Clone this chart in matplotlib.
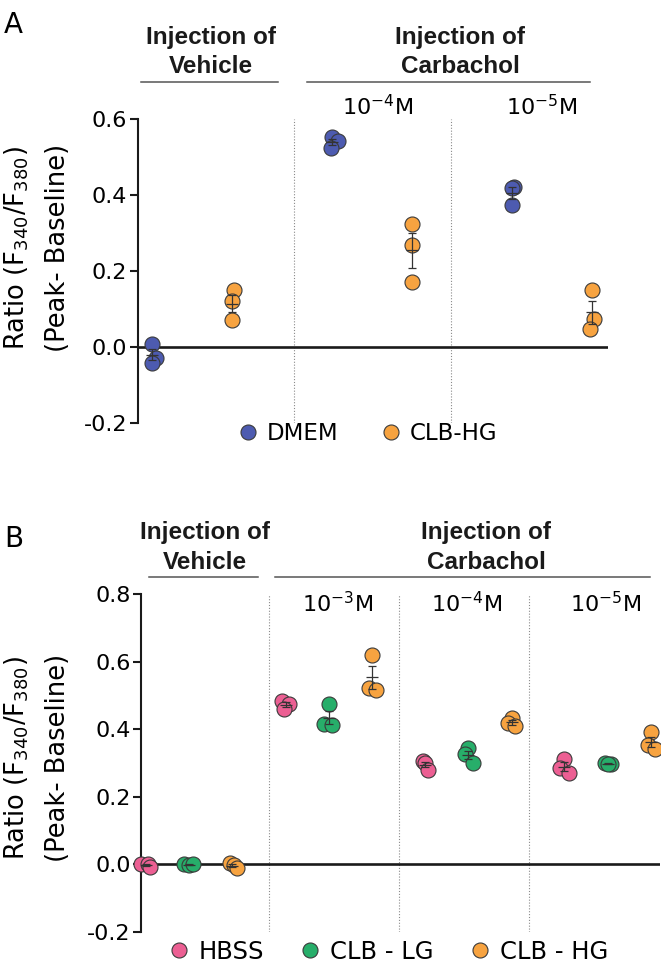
import numpy as np
import matplotlib
matplotlib.use('Agg')
import matplotlib.pyplot as plt
from matplotlib.lines import Line2D

plt.rcParams['font.family'] = ['DejaVu Sans']
plt.rcParams['axes.unicode_minus'] = False

W, H = 661, 964

# ---- panel A data ----
a_groups = ['Vehicle', '1e-4', '1e-5']
a_series = ['DMEM', 'CLB-HG']
a_colors = ['#4d5bb0', '#f7a340']
a_group_pos = [0.0, 2.256, 4.52]
a_values = {
    'DMEM': [[0.009, -0.028, -0.041], [0.552, 0.543, 0.523], [0.421, 0.419, 0.375]],
    'CLB-HG': [[0.150, 0.121, 0.071], [0.323, 0.269, 0.170], [0.150, 0.075, 0.048]],
}
a_jitter = {
    'DMEM': [[0.0, 0.05, 0.0], [0.0, 0.07, -0.01], [0.02, 0.0, 0.0]],
    'CLB-HG': [[0.02, 0.0, 0.0], [0.0, 0.0, 0.0], [0.0, 0.02, -0.02]],
}
a_dividers = [1.771, 3.753]

# ---- panel B data ----
b_groups = ['Vehicle', '1e-3', '1e-4', '1e-5']
b_series = ['HBSS', 'CLB - LG', 'CLB - HG']
b_colors = ['#ec5f93', '#27ae6a', '#f7a340']
b_group_pos = [0.0, 3.23, 6.45, 9.67]
b_values = {
    'HBSS': [[0.002, 0.0, -0.008], [0.482, 0.476, 0.460],
             [0.305, 0.299, 0.280], [0.313, 0.284, 0.270]],
    'CLB - LG': [[0.0, -0.002, 0.0], [0.475, 0.415, 0.413],
                 [0.344, 0.327, 0.300], [0.300, 0.298, 0.297]],
    'CLB - HG': [[0.003, -0.002, -0.011], [0.620, 0.522, 0.517],
                 [0.432, 0.418, 0.410], [0.393, 0.354, 0.342]],
}
b_jitter = {
    'HBSS': [[-0.1, 0.05, 0.1], [-0.07, 0.08, -0.04],
             [-0.04, 0.0, 0.08], [0.0, -0.1, 0.1]],
    'CLB - LG': [[-0.12, 0.0, 0.1], [0.0, -0.1, 0.08],
                 [0.0, -0.08, 0.1], [-0.05, 0.08, 0.0]],
    'CLB - HG': [[-0.05, 0.05, 0.1], [0.0, -0.08, 0.08],
                 [0.0, -0.07, 0.07], [0.0, -0.07, 0.1]],
}
b_dividers = [2.85, 5.85, 8.85]

MS = 10.8
EDGE = '#3a3a3a'
HEAD_FONT = ['Liberation Sans', 'DejaVu Sans']


def px(x, y):
    return x / W, 1 - y / H


def draw_panel(ax, series, colors, group_pos, values, jitter, dividers, ylim, yticks):
    for d in dividers:
        ax.axvline(d, color='#8a8a8a', lw=0.8, ls=(0, (1, 1.6)), zorder=0)
    ax.axhline(0, color='#1a1a1a', lw=1.9, zorder=1)
    for si, (name, col) in enumerate(zip(series, colors)):
        for gi, g0 in enumerate(group_pos):
            x0 = g0 + si
            ys = np.array(values[name][gi])
            xs = x0 + np.array(jitter[name][gi])
            ax.plot(xs, ys, 'o', ms=MS, mfc=col, mec=EDGE, mew=0.8,
                    ls='none', zorder=3, clip_on=False)
            m = ys.mean()
            sem = ys.std(ddof=1) / np.sqrt(len(ys))
            ax.errorbar([x0], [m], yerr=[sem], fmt='none', ecolor='#333333',
                        elinewidth=0.9, capsize=3, capthick=0.9, zorder=4)
            ax.plot([x0], [m], marker='_', ms=9, mew=0.9, color='#333333',
                    zorder=4)
    ax.set_ylim(*ylim)
    ax.set_yticks(yticks)
    ax.set_yticklabels(['%.1f' % t for t in yticks])
    ax.set_xticks([])
    for s in ['top', 'right', 'bottom']:
        ax.spines[s].set_visible(False)
    ax.spines['left'].set_linewidth(1.5)
    ax.spines['left'].set_color('#1a1a1a')
    ax.tick_params(axis='y', length=6, width=1.5, pad=1.5, labelsize=16,
                   color='#1a1a1a')


def header(x, y1, y2, line1, line2, lx0, lx1, ly):
    for y, t in [(y1, line1), (y2, line2)]:
        fig.text(*px(x, y), t, ha='center', va='baseline', fontsize=17.5,
                 fontweight='bold', color='#1a1a1a', family=HEAD_FONT)
    fig.add_artist(Line2D([lx0 / W, lx1 / W], [1 - ly / H] * 2,
                          color='#555555', lw=1.1))


def ylabel(yc):
    fig.text(*px(17, yc), r'Ratio (F$_{340}$/F$_{380}$)', rotation=90,
             ha='center', va='center', fontsize=18.5)
    fig.text(*px(58, yc), '(Peak- Baseline)', rotation=90,
             ha='center', va='center', fontsize=18.5)


def legend(handles_x, y, series, colors, colsp, fs):
    handles = [Line2D([], [], marker='o', ls='none', ms=MS, mfc=c, mec=EDGE,
                      mew=0.8) for c in colors]
    fig.legend(handles, series, loc='center left',
               bbox_to_anchor=px(handles_x, y), ncol=len(series),
               frameon=False, fontsize=fs, handlelength=0.8,
               handletextpad=0.42, columnspacing=colsp, borderpad=0,
               borderaxespad=0)


fig = plt.figure(figsize=(W / 100, H / 100), dpi=100)

# panel A
axA = fig.add_axes([137.5 / W, 1 - 423 / H, (608 - 137.5) / W, (423 - 119) / H])
draw_panel(axA, a_series, a_colors, a_group_pos, a_values, a_jitter,
           a_dividers, (-0.2, 0.6), [-0.2, 0.0, 0.2, 0.4, 0.6])
axA.set_xlim(-0.188, 5.72)

# panel B
axB = fig.add_axes([141 / W, 1 - 932 / H, (660 - 141) / W, (932 - 594) / H])
draw_panel(axB, b_series, b_colors, b_group_pos, b_values, b_jitter,
           b_dividers, (-0.2, 0.8), [-0.2, 0.0, 0.2, 0.4, 0.6, 0.8])
axB.set_xlim(-0.108, 11.88)

fig.text(*px(4, 33), 'A', fontsize=20, va='baseline')
fig.text(*px(4, 547), 'B', fontsize=20, va='baseline')

header(211, 44, 73, 'Injection of', 'Vehicle', 141, 278, 82)
header(460, 44, 73, 'Injection of', 'Carbachol', 307, 590, 82)
header(205, 539, 569, 'Injection of', 'Vehicle', 149, 258, 577)
header(486, 539, 569, 'Injection of', 'Carbachol', 275, 650, 577)

for cx, lab in zip([378, 542], [r'$10^{-4}$M', r'$10^{-5}$M']):
    fig.text(*px(cx, 115), lab, ha='center', va='baseline', fontsize=16)
for cx, lab in zip([338, 467, 606], [r'$10^{-3}$M', r'$10^{-4}$M', r'$10^{-5}$M']):
    fig.text(*px(cx, 612), lab, ha='center', va='baseline', fontsize=16)

ylabel(248)
ylabel(758)

legend(239, 434, a_series, a_colors, 1.9, 16.5)
legend(169, 952, b_series, b_colors, 1.5, 17.5)

fig.savefig('out.png', dpi=100)
